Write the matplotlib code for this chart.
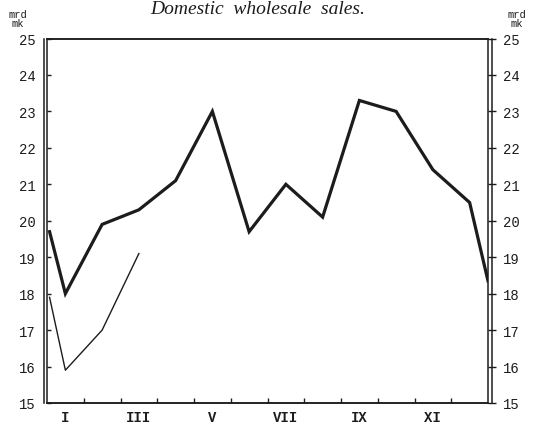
import matplotlib
matplotlib.use('Agg')
import matplotlib.pyplot as plt

# month positions: 0..12 = axis span, month centres at .5; first/last points sit on the edges
x_prev = [0.07, 0.5, 1.5, 2.5, 3.5, 4.5, 5.5, 6.5, 7.5, 8.5, 9.5, 10.5, 11.5, 12.0]
sales_prev = [19.7, 18.0, 19.9, 20.3, 21.1, 23.0, 19.7, 21.0, 20.1, 23.3, 23.0, 21.4, 20.5, 18.35]

x_curr = [0.07, 0.5, 1.5, 2.5]
sales_curr = [17.9, 15.9, 17.0, 19.1]

month_pos = [0.5, 2.5, 4.5, 6.5, 8.5, 10.5]
month_labels = ['I', 'III', 'V', 'VII', 'IX', 'XI']
yticks = list(range(15, 26))

ink = '#1c1c1c'
mono = 'Liberation Mono'

fig = plt.figure(figsize=(5.44, 4.27), dpi=100)
ax = fig.add_axes([47 / 544, 23 / 427, 441 / 544, 364.5 / 427])
ax2 = ax.twinx()

for a in (ax, ax2):
    a.set_xlim(0, 12)
    a.set_ylim(15, 25)
    a.set_yticks(yticks)
    for s in a.spines.values():
        s.set_color(ink)
        s.set_linewidth(1.1)

# double vertical rules: inner ones from ax, outer ones from ax2
ax2.spines['left'].set_position(('outward', 2.2))
ax2.spines['right'].set_position(('outward', 2.9))

ax.plot(x_prev, sales_prev, color=ink, lw=2.3, solid_joinstyle='miter')
ax.plot(x_curr, sales_curr, color=ink, lw=1.0)

# left axis
ax.tick_params(axis='y', which='major', direction='in', length=3, width=1,
               color=ink, pad=8, labelsize=10, labelcolor=ink, right=False)
for lbl in ax.get_yticklabels():
    lbl.set_fontfamily(mono)

# right axis
ax2.tick_params(axis='y', which='major', direction='inout', length=6, width=1,
                color=ink, pad=5, labelsize=10, labelcolor=ink)
for lbl in ax2.get_yticklabels():
    lbl.set_fontfamily(mono)

# bottom: ticks at month boundaries, labels at odd month centres
ax.set_xticks(range(1, 12))
ax.set_xticklabels([])
ax.tick_params(axis='x', which='major', direction='in', length=3.6, width=1, color=ink)
ax.set_xticks(month_pos, minor=True)
ax.set_xticklabels(month_labels, minor=True, fontfamily=mono, fontsize=10,
                   fontweight='bold', color=ink)
ax.tick_params(axis='x', which='minor', length=0, pad=5)
ax2.tick_params(axis='x', which='both', length=0)

fig.text(258 / 544, 1 - 9 / 427, 'Domestic  wholesale  sales.', ha='center', va='center',
         fontfamily='Liberation Serif', fontstyle='italic', fontsize=14, color=ink)
for xx in (18 / 544, 517 / 544):
    fig.text(xx, 1 - 15 / 427, 'mrd', ha='center', va='center', fontfamily=mono,
             fontsize=7.5, color=ink)
    fig.text(xx, 1 - 24 / 427, 'mk', ha='center', va='center', fontfamily=mono,
             fontsize=7.5, color=ink)

fig.savefig('out.png', dpi=100, facecolor='white')
